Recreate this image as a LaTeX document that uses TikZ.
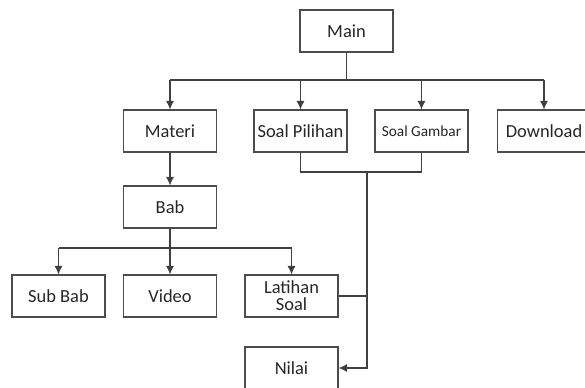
\documentclass[tikz,border=0pt]{standalone}
\usepackage{fontspec}
\setmainfont{Carlito}
\usepackage{tikz}
\usetikzlibrary{arrows.meta}

\begin{document}
\begin{tikzpicture}[every node/.style={font=\fontsize{10.5}{12}\selectfont}, >={Latex[length=1.7mm,width=1.6mm]}, line width=0.6pt, color=black!75, box/.style={draw=black!70, rectangle, minimum width=1.86cm, minimum height=0.84cm, inner sep=1pt, text=black!85, align=center}]
	\useasboundingbox (0,0) rectangle (11.7,-7.74);
	\node[box] (main) at (6.93,-0.62) {Main};
	\node[box] (materi) at (3.4,-2.62) {Materi};
	\node[box] (pilihan) at (6.01,-2.62) {Soal Pilihan};
	\node[box, font=\fontsize{8.7}{10}\selectfont] (gambar) at (8.43,-2.62) {Soal Gambar};
	\node[box] (download) at (10.88,-2.62) {Download};
	\node[box] (bab) at (3.4,-4.14) {Bab};
	\node[box] (subbab) at (1.17,-5.92) {Sub Bab};
	\node[box] (video) at (3.4,-5.92) {Video};
	\node[box, font=\fontsize{10.5}{9.5}\selectfont] (latihan) at (5.83,-5.92) {Latihan\\Soal};
	\node[box] (nilai) at (5.83,-7.36) {Nilai};
	\coordinate (j1) at (6.93,-1.6);
	\coordinate (j2) at (3.4,-4.96);
	\coordinate (j3) at (7.34,-3.44);
	\draw (main) -- (j1);
	\draw (j1 -| materi) -- (j1 -| download);
	\foreach \n in {materi,pilihan,gambar,download} {\draw[->] (j1 -| \n) -- (\n);}
	\draw[->] (materi) -- (bab);
	\draw (bab) -- (j2);
	\draw (j2 -| subbab) -- (j2 -| latihan);
	\foreach \n in {subbab,video,latihan} {\draw[->] (j2 -| \n) -- (\n);}
	\draw (pilihan) |- (j3);
	\draw (gambar) |- (j3);
	\draw (latihan) -- (latihan -| j3);
	\draw[->] (j3) |- (nilai);
\end{tikzpicture}
\end{document}
